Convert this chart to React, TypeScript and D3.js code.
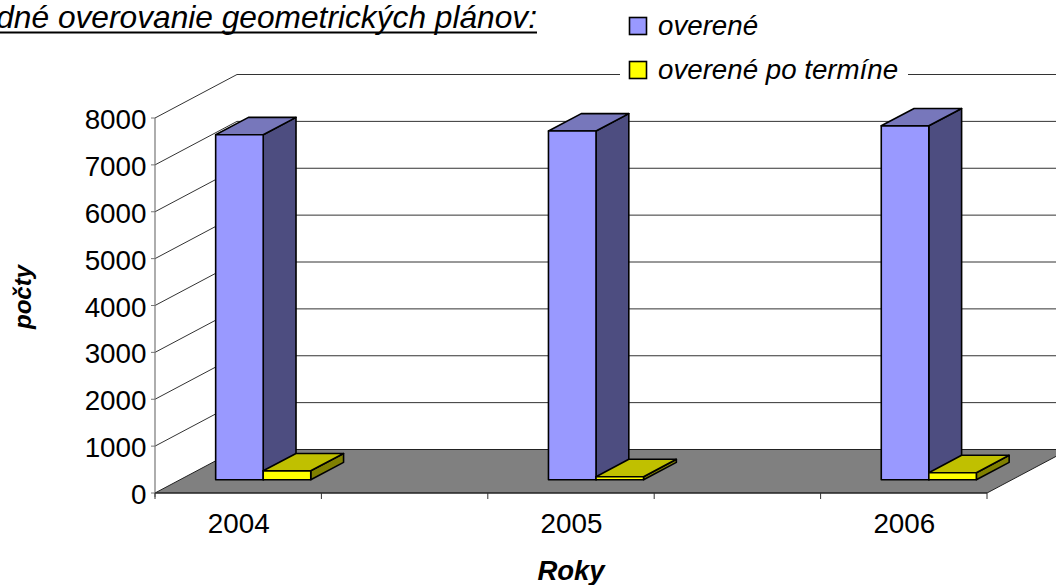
import React from "react";
import * as d3 from "d3";

const categories = ["2004", "", "2005", " ", "2006"];
const labelled = ["2004", "2005", "2006"];
const overene = [7360, 7440, 7550];
const poTermine = [190, 65, 150];
const yTicks = [0, 1000, 2000, 3000, 4000, 5000, 6000, 7000, 8000];
const seriesNames = ["overené", "overené po termíne"];
const colors = [
  { front: "#9999ff", top: "#7777bb", side: "#4d4d80" },
  { front: "#ffff00", top: "#c0c000", side: "#808000" },
];
const FONT = "'Liberation Sans', Arial, sans-serif";

export default function App() {
  const x = d3.scaleBand<string>().domain(categories).range([155, 987]);
  const inner = d3.scaleBand<number>().domain([0, 1]).range([0, x.bandwidth()]).paddingOuter(0.75).paddingInner(0);
  const y = d3.scaleLinear().domain([0, 8000]).range([493, 118]);
  const depth = { x: 82, y: -43.5 };
  const P = (px: number, v: number, z: number): [number, number] => [px + z * depth.x, y(v) + z * depth.y];
  const poly = d3.line();
  const farRight = 987 + depth.x;

  const box = (i: number, s: number, v: number) => {
    const cat = labelled[i];
    const x0 = (x(cat) as number) + (inner(s) as number);
    const x1 = x0 + inner.bandwidth();
    const z0 = 0.305;
    const z1 = 0.705;
    const c = colors[s];
    const st = { stroke: "#000", strokeWidth: 1.6, strokeLinejoin: "round" as const };
    return (
      <g key={`${i}-${s}`}>
        <path d={poly([P(x1, 0, z0), P(x1, 0, z1), P(x1, v, z1), P(x1, v, z0)]) + "Z"} fill={c.side} {...st} />
        <path d={poly([P(x0, v, z0), P(x1, v, z0), P(x1, v, z1), P(x0, v, z1)]) + "Z"} fill={c.top} {...st} />
        <path d={poly([P(x0, 0, z0), P(x1, 0, z0), P(x1, v, z0), P(x0, v, z0)]) + "Z"} fill={c.front} {...st} />
      </g>
    );
  };

  return (
    <svg
      width={1056}
      height={585}
      style={{ position: "absolute", left: 0, top: 0, background: "#fff" }}
      fontFamily={FONT}
    >
      {/* walls */}
      {yTicks.filter((t) => t > 0).map((t) => (
        <path
          key={t}
          d={poly([P(155, t, 0), P(155, t, 1), [farRight, y(t) + depth.y]]) as string}
          fill="none"
          stroke="#333"
          strokeWidth={1}
        />
      ))}
      {/* floor */}
      <path
        d={poly([P(155, 0, 0), P(987, 0, 0), P(987, 0, 1), P(155, 0, 1)]) + "Z"}
        fill="#808080"
        stroke="#222"
        strokeWidth={1}
      />
      {/* value axis */}
      <line x1={155} x2={155} y1={y(8000)} y2={y(0) + 4} stroke="#777" strokeWidth={1.2} />
      {yTicks.map((t) => (
        <g key={t}>
          <line x1={151} x2={155} y1={y(t)} y2={y(t)} stroke="#777" strokeWidth={1} />
          <text x={146.5} y={y(t) + 11} textAnchor="end" fontSize={27.8} fill="#000">
            {t}
          </text>
        </g>
      ))}
      {/* category axis */}
      <line x1={155} x2={987} y1={y(0)} y2={y(0)} stroke="#222" strokeWidth={1.2} />
      {[...categories.map((c) => x(c) as number), 987].map((tx, i) => (
        <line key={i} x1={tx} x2={tx} y1={y(0)} y2={y(0) + 6} stroke="#333" strokeWidth={1} />
      ))}
      {labelled.map((c) => (
        <text key={c} x={(x(c) as number) + x.bandwidth() / 2 + 0.5} y={533} textAnchor="middle" fontSize={27.8} fill="#000">
          {c}
        </text>
      ))}
      {/* bars */}
      {labelled.map((_, i) => (
        <g key={i}>
          {box(i, 0, overene[i])}
          {box(i, 1, poTermine[i])}
        </g>
      ))}
      {/* title */}
      <text x={537} y={28} textAnchor="end" fontSize={31.7} fontStyle="italic" fill="#000">
        dné overovanie geometrických plánov:
      </text>
      <line x1={0} x2={537} y1={32.5} y2={32.5} stroke="#000" strokeWidth={2} />
      {/* legend */}
      <rect x={620} y={60} width={288} height={30} fill="#fff" />
      {seriesNames.map((n, i) => (
        <g key={n}>
          <rect x={629.5} y={17.5 + i * 44} width={17} height={17} fill={colors[i].front} stroke="#000" strokeWidth={1.6} />
          <text x={658} y={35 + i * 44} fontSize={27.7} fontStyle="italic" fill="#000">
            {n}
          </text>
        </g>
      ))}
      {/* axis titles */}
      <text x={571} y={580} textAnchor="middle" fontSize={27.5} fontStyle="italic" fontWeight="bold" fill="#000">
        Roky
      </text>
      <text
        transform="translate(31,297) rotate(-90)"
        textAnchor="middle"
        fontSize={24}
        fontStyle="italic"
        fontWeight="bold"
        fill="#000"
      >
        počty
      </text>
    </svg>
  );
}
